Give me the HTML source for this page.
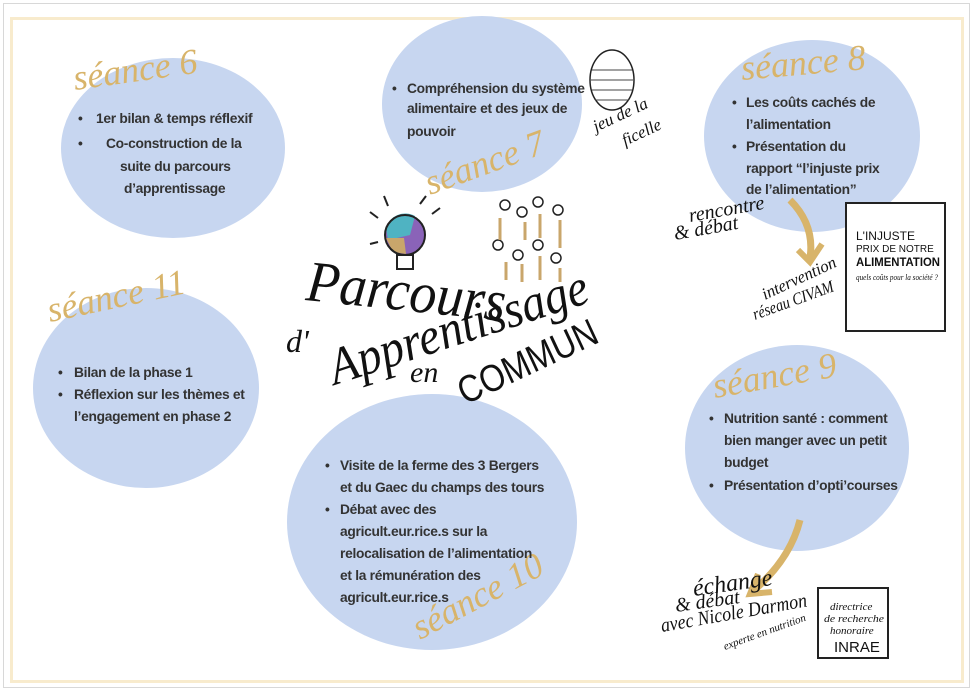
<!DOCTYPE html>
<html><head><meta charset="utf-8"><style>
html,body{margin:0;padding:0;background:#fff;}
svg{display:block}
.t{font-family:"Liberation Sans",sans-serif;font-weight:bold;font-size:13.8px;fill:#333;letter-spacing:-0.3px}
.s{font-family:"Liberation Serif",serif;font-style:italic;fill:#d8b46a;font-size:36px}
.h{font-family:"Liberation Serif",serif;font-style:italic;fill:#111}
.k{font-family:"Liberation Sans",sans-serif;fill:#111}
</style></head><body>
<svg width="973" height="691" viewBox="0 0 973 691" xmlns="http://www.w3.org/2000/svg">
<rect x="3.5" y="3.5" width="966" height="684" fill="#fff" stroke="#d8d8d8"/>
<rect x="11.5" y="18.5" width="951" height="663" fill="none" stroke="#f8ebcd" stroke-width="3"/>
<g fill="#c7d6f0">
<ellipse cx="173" cy="148" rx="112" ry="90"/>
<ellipse cx="482" cy="104" rx="100" ry="88"/>
<ellipse cx="812" cy="136" rx="108" ry="96"/>
<ellipse cx="146" cy="388" rx="113" ry="100"/>
<ellipse cx="432" cy="522" rx="145" ry="128"/>
<ellipse cx="797" cy="448" rx="112" ry="103"/>
</g>
<text class="s" x="75" y="90" transform="rotate(-8 75 90)">séance 6</text>
<text class="s" x="430" y="195" transform="rotate(-20 430 195)">séance 7</text>
<text class="s" x="742" y="80" transform="rotate(-5 742 80)">séance 8</text>
<text class="s" x="50" y="322" transform="rotate(-12 50 322)">séance 11</text>
<text class="s" x="715" y="398" transform="rotate(-10 715 398)">séance 9</text>
<text class="s" x="420" y="640" transform="rotate(-28 420 640)">séance 10</text>
<g class="t">
<text x="78" y="123">•</text><text x="96" y="123">1er bilan &amp; temps réflexif</text>
<text x="78" y="148">•</text><text x="106" y="148">Co-construction de la</text>
<text x="120" y="171">suite du parcours</text>
<text x="124" y="193">d’apprentissage</text>
<text x="392" y="93">•</text><text x="407" y="93">Compréhension du système</text>
<text x="407" y="113">alimentaire et des jeux de</text>
<text x="407" y="136">pouvoir</text>
<text x="732" y="107">•</text><text x="746" y="107">Les coûts cachés de</text>
<text x="746" y="129">l’alimentation</text>
<text x="732" y="151">•</text><text x="746" y="151">Présentation du</text>
<text x="746" y="173">rapport  “l’injuste prix</text>
<text x="746" y="194">de l’alimentation”</text>
<text x="58" y="377">•</text><text x="74" y="377">Bilan de la phase 1</text>
<text x="58" y="399">•</text><text x="74" y="399">Réflexion sur les thèmes et</text>
<text x="74" y="421">l’engagement en phase 2</text>
<text x="325" y="470">•</text><text x="340" y="470">Visite de la ferme des 3 Bergers</text>
<text x="340" y="492">et du Gaec du champs des tours</text>
<text x="325" y="514">•</text><text x="340" y="514">Débat avec des</text>
<text x="340" y="536">agricult.eur.rice.s sur la</text>
<text x="340" y="558">relocalisation de l’alimentation</text>
<text x="340" y="580">et la rémunération des</text>
<text x="340" y="602">agricult.eur.rice.s</text>
<text x="709" y="423">•</text><text x="724" y="423">Nutrition santé : comment</text>
<text x="724" y="445">bien manger avec un petit</text>
<text x="724" y="467">budget</text>
<text x="709" y="490">•</text><text x="724" y="490">Présentation d’opti’courses</text>
</g>
<!-- central title -->
<text class="h" x="305" y="300" font-size="58" textLength="200" lengthAdjust="spacingAndGlyphs" transform="rotate(6 305 300)">Parcours</text>
<text class="h" x="286" y="352" font-size="32">d'</text>
<text class="h" x="335" y="385" font-size="52" textLength="270" lengthAdjust="spacingAndGlyphs" transform="rotate(-18 335 385)">Apprentissage</text>
<text class="h" x="410" y="382" font-size="30">en</text>
<text class="k" x="465" y="405" font-size="38" textLength="150" lengthAdjust="spacingAndGlyphs" transform="rotate(-25 465 405)">COMMUN</text>
<!-- bulb -->
<circle cx="405" cy="235" r="20" fill="#8a63b8"/>
<path d="M386 228 A20 20 0 0 1 415 216 L410 235 L388 240Z" fill="#4fb3c2"/>
<path d="M386 238 L404 238 L406 254 L393 252Z" fill="#c9a66b"/>
<circle cx="405" cy="235" r="20" fill="none" stroke="#222" stroke-width="2"/>
<rect x="397" y="255" width="16" height="14" fill="none" stroke="#222" stroke-width="2"/>
<g stroke="#222" stroke-width="2"><line x1="378" y1="218" x2="370" y2="212"/><line x1="388" y1="206" x2="384" y2="196"/><line x1="420" y1="204" x2="426" y2="196"/><line x1="432" y1="214" x2="440" y2="208"/><line x1="378" y1="242" x2="370" y2="244"/></g>
<g fill="none" stroke="#222" stroke-width="1.5">
<circle cx="505" cy="205" r="5"/><circle cx="522" cy="212" r="5"/><circle cx="538" cy="202" r="5"/><circle cx="558" cy="210" r="5"/>
<circle cx="498" cy="245" r="5"/><circle cx="518" cy="255" r="5"/><circle cx="538" cy="245" r="5"/><circle cx="556" cy="258" r="5"/>
</g>
<g stroke="#c9a66b" stroke-width="3" fill="none">
<path d="M500 240 V218 M525 240 V222 M540 238 V214 M560 248 V220 M506 280 V262 M522 282 V264 M540 280 V256 M560 282 V268"/>
</g>
<ellipse cx="612" cy="80" rx="22" ry="30" fill="#fff" stroke="#222" stroke-width="1.5"/>
<g stroke="#444"><line x1="592" y1="70" x2="632" y2="70"/><line x1="591" y1="80" x2="633" y2="80"/><line x1="592" y1="90" x2="632" y2="90"/><line x1="595" y1="100" x2="629" y2="100"/></g>
<text class="h" x="596" y="132" font-size="17" transform="rotate(-25 596 132)">jeu de la</text>
<text class="h" x="625" y="146" font-size="17" transform="rotate(-25 625 146)">ficelle</text>
<text class="h" x="690" y="222" font-size="20" transform="rotate(-10 690 222)">rencontre</text>
<text class="h" x="675" y="240" font-size="20" transform="rotate(-10 675 240)">&amp; débat</text>
<path d="M790 200 Q815 225 810 258" stroke="#d8b46a" stroke-width="7" fill="none"/>
<path d="M798 250 L810 262 L822 244" stroke="#d8b46a" stroke-width="6" fill="none"/>
<text class="h" x="765" y="300" font-size="17" textLength="80" lengthAdjust="spacingAndGlyphs" transform="rotate(-25 765 300)">intervention</text>
<text class="h" x="755" y="320" font-size="17" textLength="85" lengthAdjust="spacingAndGlyphs" transform="rotate(-20 755 320)">réseau CIVAM</text>
<rect x="846" y="203" width="99" height="128" fill="#fff" stroke="#222" stroke-width="2"/>
<text class="k" x="856" y="240" font-size="12">L'INJUSTE</text>
<text class="k" x="856" y="252" font-size="10">PRIX DE NOTRE</text>
<text class="k" x="856" y="266" font-size="11.5" font-weight="bold" textLength="84" lengthAdjust="spacingAndGlyphs">ALIMENTATION</text>
<text class="h" x="856" y="280" font-size="8" textLength="82" lengthAdjust="spacingAndGlyphs">quels coûts pour la société ?</text>
<path d="M800 520 Q790 560 752 592" stroke="#d8b46a" stroke-width="7" fill="none"/>
<path d="M758 574 L750 594 L772 592" stroke="#d8b46a" stroke-width="6" fill="none"/>
<text class="h" x="694" y="596" font-size="24" transform="rotate(-8 694 596)">échange</text>
<text class="h" x="676" y="612" font-size="20" transform="rotate(-8 676 612)">&amp; débat</text>
<text class="h" x="662" y="632" font-size="20" textLength="148" lengthAdjust="spacingAndGlyphs" transform="rotate(-10 662 632)">avec Nicole Darmon</text>
<text class="h" x="725" y="650" font-size="11" transform="rotate(-20 725 650)">experte en nutrition</text>
<rect x="818" y="588" width="70" height="70" fill="#fff" stroke="#222" stroke-width="2"/>
<text class="h" x="830" y="610" font-size="11">directrice</text>
<text class="h" x="824" y="622" font-size="11" textLength="60" lengthAdjust="spacingAndGlyphs">de recherche</text>
<text class="h" x="830" y="634" font-size="11">honoraire</text>
<text class="k" x="834" y="652" font-size="15">INRAE</text>
</svg>
</body></html>
